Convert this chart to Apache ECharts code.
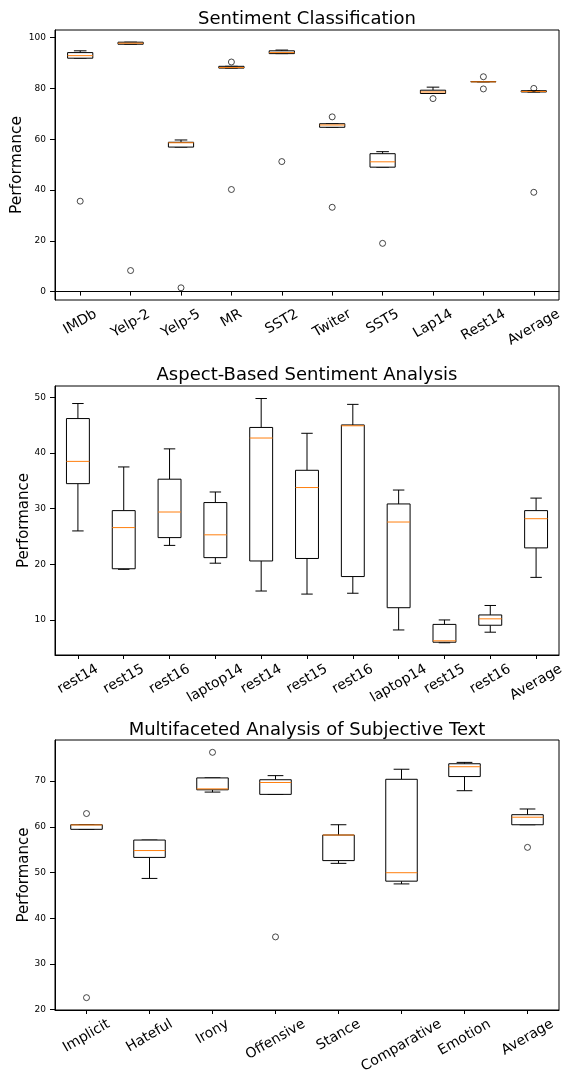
<!DOCTYPE html>
<html>
<head>
<meta charset="utf-8">
<script src="https://cdn.jsdelivr.net/npm/echarts@6/dist/echarts.min.js"></script>
<style>
html,body{margin:0;padding:0;background:#fff;}
#chart{width:564px;height:1075px;}
</style>
</head>
<body>
<div id="chart"></div>
<script>
// ---------- Panel 1: Sentiment Classification ----------
const sentCategories = ['IMDb','Yelp-2','Yelp-5','MR','SST2','Twiter','SST5','Lap14','Rest14','Average'];
// [lowWhisker, q1, median, q3, highWhisker]
const sentBoxes = [
  [91.9, 91.9, 92.9, 94.1, 94.8],
  [97.4, 97.4, 97.8, 98.2, 98.2],
  [56.9, 56.9, 58.6, 58.8, 59.7],
  [88.0, 88.0, 88.2, 88.7, 88.7],
  [93.7, 93.7, 94.1, 94.8, 95.1],
  [64.7, 64.7, 65.6, 66.1, 66.1],
  [49.0, 49.0, 51.1, 54.3, 55.1],
  [78.0, 78.0, 78.6, 79.3, 80.5],
  [82.6, 82.6, 82.6, 82.7, 82.7],
  [78.6, 78.6, 78.8, 79.1, 79.1]
];
// [categoryIndex, value]
const sentOutliers = [
  [0, 35.6], [1, 8.3], [2, 1.5], [3, 90.4], [3, 40.2], [4, 51.2],
  [5, 68.8], [5, 33.2], [6, 19.0], [7, 76.0], [8, 84.6], [8, 79.8],
  [9, 80.0], [9, 39.1]
];
const sentTicks = [0, 20, 40, 60, 80, 100];

// ---------- Panel 2: Aspect-Based Sentiment Analysis ----------
const absaCategories = ['rest14','rest15','rest16','laptop14','rest14','rest15','rest16','laptop14','rest15','rest16','Average'];
const absaBoxes = [
  [26.0, 34.5, 38.5, 46.2, 48.9],
  [19.1, 19.2, 26.6, 29.65, 37.5],
  [23.4, 24.8, 29.4, 35.3, 40.75],
  [20.2, 21.2, 25.3, 31.1, 33.0],
  [15.2, 20.6, 42.7, 44.6, 49.8],
  [14.65, 21.05, 33.8, 36.9, 43.55],
  [14.8, 17.8, 44.9, 45.05, 48.75],
  [8.2, 12.2, 27.6, 30.85, 33.35],
  [5.9, 6.0, 6.25, 9.2, 10.0],
  [7.8, 9.05, 10.2, 10.9, 12.6],
  [17.65, 22.95, 28.2, 29.65, 31.9]
];
const absaOutliers = [];
const absaTicks = [10, 20, 30, 40, 50];

// ---------- Panel 3: Multifaceted Analysis of Subjective Text ----------
const multiCategories = ['Implicit','Hateful','Irony','Offensive','Stance','Comparative','Emotion','Average'];
const multiBoxes = [
  [59.45, 59.45, 60.4, 60.45, 60.45],
  [48.7, 53.3, 54.8, 57.1, 57.1],
  [67.6, 68.1, 68.3, 70.7, 70.7],
  [67.1, 67.1, 69.7, 70.3, 71.2],
  [52.0, 52.6, 58.2, 58.2, 60.45],
  [47.5, 48.1, 49.95, 70.4, 72.6],
  [67.9, 71.0, 73.15, 73.8, 74.1],
  [60.45, 60.45, 62.1, 62.65, 63.9]
];
const multiOutliers = [
  [0, 62.9], [0, 22.6], [2, 76.3], [3, 35.9], [7, 55.5]
];
const multiTicks = [20, 30, 40, 50, 60, 70];

const FONT = 'DejaVu Sans';
const XLABEL_SIZE = 14;

const panels = [
  {title: 'Sentiment Classification', cats: sentCategories, boxes: sentBoxes, outliers: sentOutliers, ticks: sentTicks,
   top: 30, height: 270, min: -3.3, max: 103.0, titleTop: 5, nameFont: 15.5, nameGap: 30},
  {title: 'Aspect-Based Sentiment Analysis', cats: absaCategories, boxes: absaBoxes, outliers: absaOutliers, ticks: absaTicks,
   top: 386, height: 269, min: 3.7, max: 52.05, titleTop: 361, nameFont: 15, nameGap: 23},
  {title: 'Multifaceted Analysis of Subjective Text', cats: multiCategories, boxes: multiBoxes, outliers: multiOutliers, ticks: multiTicks,
   top: 740, height: 270, min: 19.9, max: 79.0, titleTop: 716, nameFont: 15, nameGap: 23}
];

// Rotated labels centred under their tick (like matplotlib rotation=30, ha=center)
const measureCtx = document.createElement('canvas').getContext('2d');
function labelRich(cats, fontSize, base) {
  measureCtx.font = fontSize + 'px "' + FONT + '"';
  const rich = {};
  cats.forEach((c, i) => {
    const w = measureCtx.measureText(c).width;
    const H = w * 0.5 + fontSize * 0.866;
    const d = base + H / 2;
    rich['s' + i] = {fontSize: fontSize, fontFamily: FONT, color: '#000', padding: [1.732 * d, d, 0, 0]};
  });
  return rich;
}

function renderBox(params, api) {
  const x = api.value(0);
  const low = api.coord([x, api.value(1)]);
  const q1 = api.coord([x, api.value(2)]);
  const med = api.coord([x, api.value(3)]);
  const q3 = api.coord([x, api.value(4)]);
  const high = api.coord([x, api.value(5)]);
  const w = api.size([1, 0])[0] * 0.5;
  const cx = low[0];
  const ls = {stroke: '#000', lineWidth: 1, fill: null};
  return {
    type: 'group',
    children: [
      {type: 'line', shape: {x1: cx, y1: q1[1], x2: cx, y2: low[1]}, style: ls},
      {type: 'line', shape: {x1: cx, y1: q3[1], x2: cx, y2: high[1]}, style: ls},
      {type: 'line', shape: {x1: cx - w / 4, y1: low[1], x2: cx + w / 4, y2: low[1]}, style: ls},
      {type: 'line', shape: {x1: cx - w / 4, y1: high[1], x2: cx + w / 4, y2: high[1]}, style: ls},
      {type: 'rect', shape: {x: cx - w / 2, y: q3[1], width: w, height: q1[1] - q3[1]}, style: {stroke: '#000', lineWidth: 1, fill: '#fff'}},
      {type: 'line', shape: {x1: cx - w / 2, y1: med[1], x2: cx + w / 2, y2: med[1]}, style: {stroke: '#ff7f0e', lineWidth: 1}}
    ]
  };
}

const option = {
  animation: false,
  backgroundColor: '#fff',
  textStyle: {fontFamily: FONT},
  title: [], grid: [], xAxis: [], yAxis: [], series: []
};

panels.forEach((p, i) => {
  option.title.push({
    text: p.title, left: 302, top: p.titleTop, textAlign: 'center',
    textStyle: {fontFamily: FONT, fontSize: 18, fontWeight: 'normal', color: '#000'}
  });
  option.grid.push({
    left: 55, right: 5, top: p.top, height: p.height,
    outerBoundsMode: 'none', containLabel: false,
    show: true, borderColor: '#000', borderWidth: 1, backgroundColor: 'transparent'
  });
  option.xAxis.push({
    type: 'category', gridIndex: i, data: p.cats, boundaryGap: true,
    axisLine: {show: true, lineStyle: {color: '#000', width: 1}},
    axisTick: {show: true, alignWithLabel: true, length: 4, lineStyle: {color: '#000'}},
    axisLabel: {rotate: 30, align: 'center', verticalAlign: 'middle', margin: 0, interval: 0,
      hideOverlap: false,
      fontSize: XLABEL_SIZE, color: '#000', fontFamily: FONT,
      formatter: (v, idx) => '{s' + idx + '|' + p.cats[idx] + '}',
      rich: labelRich(p.cats, XLABEL_SIZE, 7)},
    splitLine: {show: false}
  });
  option.yAxis.push({
    type: 'value', gridIndex: i, min: p.min, max: p.max,
    name: 'Performance', nameLocation: 'middle', nameGap: p.nameGap, nameMoveOverlap: false,
    nameTextStyle: {fontSize: p.nameFont, color: '#000', fontFamily: FONT},
    axisLine: {show: true, lineStyle: {color: '#000', width: 1}},
    axisTick: {show: true, length: 5, lineStyle: {color: '#000'}, customValues: p.ticks},
    axisLabel: {fontSize: 9, color: '#000', fontFamily: FONT, margin: 9, customValues: p.ticks},
    splitLine: {show: false}
  });
  option.series.push({
    type: 'custom', xAxisIndex: i, yAxisIndex: i,
    renderItem: renderBox,
    encode: {x: 0, y: [1, 2, 3, 4, 5]},
    data: p.boxes.map((b, k) => [k].concat(b)),
    z: 2
  });
  option.series.push({
    type: 'scatter', xAxisIndex: i, yAxisIndex: i,
    symbol: 'circle', symbolSize: 6,
    itemStyle: {color: 'rgba(255,255,255,0)', borderColor: '#000', borderWidth: 0.9},
    data: p.outliers,
    z: 3
  });
});

const chart = echarts.init(document.getElementById('chart'), null, {renderer: 'canvas'});
chart.setOption(option);
</script>
</body>
</html>
